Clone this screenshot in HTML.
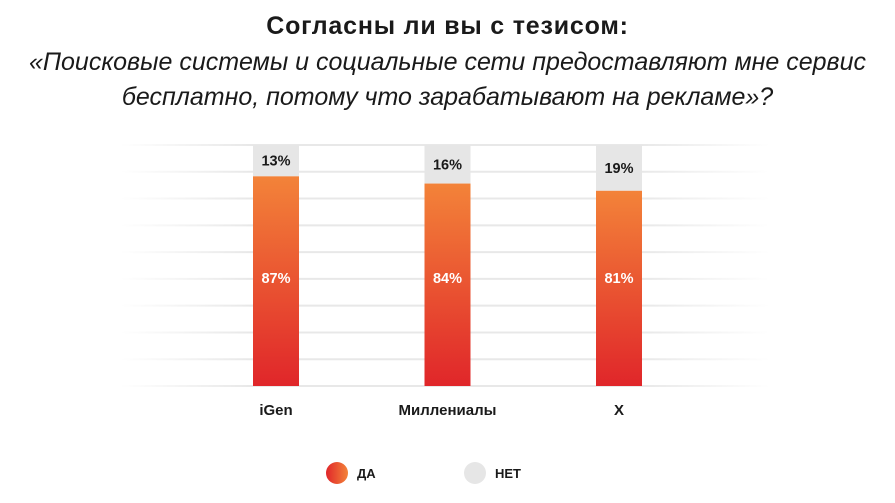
<!DOCTYPE html>
<html><head><meta charset="utf-8"><style>
body{margin:0;width:895px;height:503px;background:#fff;font-family:"Liberation Sans",sans-serif;overflow:hidden}
.t{position:absolute;left:0;width:895px;text-align:center;color:#1a1a1a}
</style></head><body>
<div class="t" style="top:12px;font-size:25px;font-weight:bold;letter-spacing:0.8px">Согласны ли вы с тезисом:</div>
<div class="t" style="top:45px;font-size:25px;font-style:italic;line-height:35px">«Поисковые системы и социальные сети предоставляют мне сервис<br>бесплатно, потому что зарабатывают на рекламе»?</div>
<svg width="895" height="503" style="position:absolute;left:0;top:0">
<defs><linearGradient id="g" x1="0" y1="0" x2="0" y2="1"><stop offset="0" stop-color="#f38339"/><stop offset="1" stop-color="#e0262a"/></linearGradient>
<linearGradient id="gh" x1="0" y1="0" x2="1" y2="0"><stop offset="0" stop-color="#e0262a"/><stop offset="1" stop-color="#f38339"/></linearGradient>
<linearGradient id="fade" gradientUnits="userSpaceOnUse" x1="120" y1="0" x2="770" y2="0"><stop offset="0" stop-color="#e8e8e8" stop-opacity="0"/><stop offset="0.2" stop-color="#e8e8e8"/><stop offset="0.8" stop-color="#e8e8e8"/><stop offset="1" stop-color="#e8e8e8" stop-opacity="0"/></linearGradient></defs>
<g id="grid"></g><g id="bars"></g>
<g>
<circle cx="337" cy="473" r="11" fill="url(#gh)"/>
<text x="357" y="478" font-size="13" font-weight="bold" fill="#1a1a1a">ДА</text>
<circle cx="475" cy="473" r="11" fill="#e6e6e6"/>
<text x="495" y="478" font-size="13" font-weight="bold" fill="#1a1a1a">НЕТ</text>
</g>
</svg>
<script>
const categories=["iGen","Миллениалы","X"];
const yesValues=[87,84,81];
const noValues=[13,16,19];
const NS="http://www.w3.org/2000/svg";
const top0=145,bot=386,h=bot-top0;
const y=v=>bot-v/100*h;
const xc=i=>276+i*171.5;
const grid=document.getElementById('grid'),bars=document.getElementById('bars');
function mk(tag,attrs,parent){const e=document.createElementNS(NS,tag);for(const k in attrs)e.setAttribute(k,attrs[k]);parent.appendChild(e);return e;}
for(let k=0;k<=9;k++){const v=k*100/9;const l=mk('line',{x1:120,x2:770,y1:y(v),y2:y(v),stroke:'url(#fade)','stroke-width':2},grid);

}
categories.forEach((c,i)=>{const x=xc(i)-23;
const n=mk('rect',{x:x,y:y(100),width:46,height:y(yesValues[i])-y(100),fill:'#e6e6e6'},bars);


const b=mk('rect',{x:x,y:y(yesValues[i]),width:46,height:bot-y(yesValues[i]),fill:'url(#g)'},bars);


const t1=mk('text',{x:xc(i),y:(y(100)+y(yesValues[i]))/2+5,'text-anchor':'middle','font-size':14.5,'font-weight':'bold',fill:'#1a1a1a'},bars);t1.textContent=noValues[i]+'%';


const t2=mk('text',{x:xc(i),y:283,'text-anchor':'middle','font-size':14.5,'font-weight':'bold',fill:'#fff'},bars);t2.textContent=yesValues[i]+'%';


const t3=mk('text',{x:xc(i),y:415,'text-anchor':'middle','font-size':15,'font-weight':'bold',fill:'#1a1a1a'},bars);t3.textContent=c;


});
</script>
</body></html>
